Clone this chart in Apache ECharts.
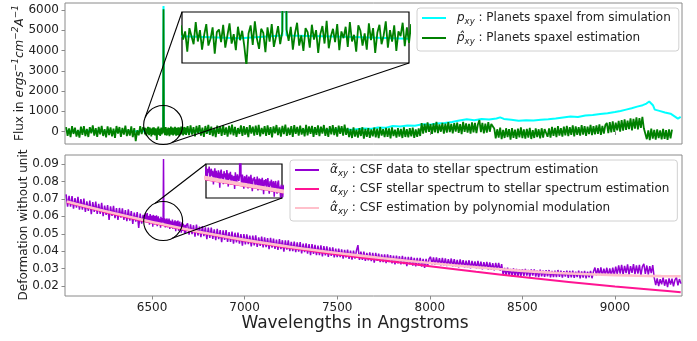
<!DOCTYPE html>
<html>
<head>
<meta charset="utf-8">
<script src="https://cdn.jsdelivr.net/npm/echarts@6/dist/echarts.min.js"></script>
<style>html,body{margin:0;padding:0;background:#fff}#c{width:697px;height:341px}</style>
</head>
<body>
<div id="c"></div>
<script>
// ---------------- DATA ----------------
const lambdaTicks = [6500, 7000, 7500, 8000, 8500, 9000];
const fluxTicks = [0, 1000, 2000, 3000, 4000, 5000, 6000];
const csfTicks = [0.02, 0.03, 0.04, 0.05, 0.06, 0.07, 0.08, 0.09];

// sampling of the noisy spectra (Angstrom)
const coarseLeftStart = 6036, fineStart = 6460, coarseRightStart = 6692;
const coarseStep = 8, fineStep = 2;

// p_hat_xy : estimated planet spaxel (flux)
const greenLeft = [220,-210,150,-280,260,-120,190,-250,80,-300,240,-160,270,-230,130,-270,210,-90,300,-200,
 160,-260,230,-140,280,-220,110,-290,250,-180,200,-240,140,-310,270,-100,220,-260,180,-150,
 290,-230,120,-200,250,-280,170,-480,60,-190,260,-130,210];
const greenFine = [60,-140,180,-30,90,-210,140,20,-100,230,
 -60,110,-180,40,200,-120,-20,150,-240,80,
 120,-70,190,-150,30,210,-90,50,-190,160,
 -40,100,-130,-420,60,180,-110,240,-20,-170,
 130,70,-220,150,-60,200,-140,10,170,-100,
 90,6035,120,-50,160,-180,60,220,-120,30,
 -200,140,80,-150,190,-30,110,-230,50,170,
 -90,250,-160,20,130,-70,200,-190,90,-10,
 160,-140,230,-60,40,-210,180,100,-120,60,
 -180,210,-40,140,-230,70,190,-100,30,240,
 -150,110,-60,180,-200,90,20,220,-130,150,
 -80,200,-170];
const greenRight = [
 260,-180,300,-150,220,-240,280,-90,310,-200,190,-260,270,-120,330,-170,240,-230,180,-280,
 290,-110,250,-210,320,-160,200,-250,280,-140,340,-190,230,-270,170,-120,300,-220,260,-150,
 210,-280,310,-100,240,-200,290,-170,330,-240,180,-130,270,-210,300,-160,220,-290,250,-90,
 320,-180,200,-250,280,-130,340,-220,190,-170,260,-270,310,-110,230,-200,290,-150,170,-240,
 330,-190,250,-120,280,-260,210,-160,300,-230,240,-100,320,-210,180,-270,270,-140,310,-180,
 220,-250,290,-120,260,-200,340,-160,
 180,-280,120,-320,200,-250,90,-300,160,-220,210,-350,130,-260,170,-310,100,-240,190,-290,
 140,-330,220,-200,110,-280,180,-260,150,-340,200,-230,90,-300,170,-250,130,-320,210,-270,
 120,-290,160,-240,190,-310,100,-260,150,-220,
 420,-100,380,-60,450,-20,360,-120,400,-40,470,-80,350,-10,430,-110,390,-50,460,-30,
 370,-90,410,0,440,-70,360,-130,480,-20,400,-60,380,-100,450,-40,420,-80,360,560,
 -30,430,-90,390,-50,460,-10,370,280,
 150,-340,110,-300,190,-380,80,-320,160,-280,120,-400,170,-310,90,-360,140,-290,200,-330,
 100,-350,130,-300,180,-370,70,-320,150,-280,110,-340,160,-300,120,
 200,-260,150,-300,230,-220,180,-280,260,-200,170,-250,240,-190,280,-230,210,-170,300,-240,
 250,-160,220,-200,310,-150,270,-210,240,-130,330,-180,260,-140,300,-120,350,-170,280,-100,320,
 420,-80,460,-40,500,-20,440,60,520,-10,560,40,600,80,540,120,650,60,620,140,
 700,100,660,180,720,160,
 120,-380,60,-420,140,-350,80,-400,100,-330,50,-390,130,-360,70,-410,110,-340,90];

// p_xy : planet spaxel from simulation [wavelength, flux]
const cyanPoints = [[6040,20],[6100,-30],[6160,40],[6220,10],[6280,-20],[6340,30],[6400,0],[6460,20],[6520,-10],[6560,30],[6562,6200],[6564,30],[6620,10],[6680,-20],[6740,30],[6800,0],[6860,40],[6920,10],[6980,30],[7040,50],[7100,20],[7160,60],[7220,40],[7280,70],[7340,50],[7400,90],[7460,70],[7520,110],[7580,90],[7640,150],[7680,130],[7720,200],[7760,180],[7800,270],[7840,250],[7880,300],[7920,280],[7960,360],[8000,340],[8040,390],[8080,420],[8120,470],[8160,540],[8200,600],[8240,560],[8280,620],[8320,590],[8360,640],[8380,700],[8400,620],[8440,580],[8480,530],[8520,560],[8560,540],[8600,580],[8640,600],[8680,640],[8720,690],[8760,740],[8800,720],[8840,790],[8880,820],[8920,860],[8960,900],[9000,960],[9030,1010],[9060,1080],[9090,1150],[9120,1230],[9150,1300],[9170,1380],[9185,1480],[9195,1400],[9205,1300],[9215,1080],[9240,1020],[9270,940],[9300,880],[9320,760],[9340,640],[9355,720]];

// alpha_tilde_xy : CSF data to stellar spectrum estimation
const purpleLeft = [.0726,.0656,.0717,.0655,.0716,.0644,.0704,.0650,.0712,.0638,.0699,.0638,.0702,.0626,.0686,.0632,.0690,.0612,.0682,.0626,.0684,.0614,.0672,.0614,.0678,.0601,.0662,.0608,.0665,.0580,.0658,.0602,.0660,.0590,.0648,.0580,.0648,.0592,.0646,.0580,.0636,.0572,.0640,.0576,.0630,.0556,.0622,.0570,.0624,.0533,.0616,.0558,.0608];
const purpleFine = [.0610,.0585,.0617,.0593,.0566,.0611,.0597,.0619,.0571,.0601,
 .0611,.0583,.0603,.0552,.0592,.0613,.0575,.0603,.0587,.0563,
 .0605,.0592,.0540,.0596,.0608,.0574,.0592,.0553,.0602,.0579,
 .0594,.0560,.0606,.0582,.0544,.0594,.0572,.0600,.0552,.0588,
 .0595,.0565,.0584,.0535,.0598,.0574,.0557,.0590,.0577,.0565,
 .0587,.0929,.0582,.0548,.0589,.0566,.0536,.0583,.0574,.0556,
 .0588,.0566,.0537,.0582,.0574,.0546,.0588,.0559,.0527,.0575,
 .0567,.0580,.0538,.0571,.0551,.0582,.0529,.0566,.0574,.0543,
 .0571,.0530,.0577,.0557,.0515,.0569,.0548,.0572,.0533,.0562,
 .0576,.0540,.0517,.0564,.0548,.0570,.0525,.0556,.0564,.0506,
 .0552,.0565,.0539,.0517,.0558,.0567,.0526,.0544,.0500,.0551,
 .0539,.0504,.0545];
const purpleRight = [
 .0560,.0495,.0554,.0498,.0549,.0483,.0552,.0490,.0541,.0481,.0544,.0486,.0537,.0469,.0535,.0476,.0536,.0471,.0525,.0464,
 .0528,.0469,.0521,.0452,.0520,.0465,.0521,.0453,.0510,.0454,.0513,.0443,.0506,.0450,.0507,.0443,.0498,.0432,.0498,
 .0439,.0496,.0441,.0489,.0428,.0490,.0434,.0491,.0425,.0480,.0431,.0484,.0422,.0479,.0424,.0475,.0412,.0476,.0421,.0472,
 .0413,.0466,.0408,.0469,.0412,.0463,.0398,.0462,.0409,.0462,.0401,.0454,.0400,.0455,.0394,.0451,.0397,.0452,.0387,.0444,
 .0395,.0445,.0386,.0441,.0378,.0441,.0385,.0436,.0377,.0432,.0378,.0433,.0370,.0429,.0376,.0428,.0367,.0422,.0373,.0422,
 .0364,.0415,
 .0366,.0415,.0366,.0411,.0358,.0407,.0364,.0409,.0356,.0404,.0351,.0404,.0357,.0404,.0435,.0350,.0397,.0350,.0397,.0344,
 .0391,.0348,.0393,.0343,.0390,.0335,.0390,.0345,.0386,.0337,.0382,.0337,.0382,.0331,.0382,.0337,.0378,.0330,.0375,.0324,
 .0375,.0330,.0371,.0324,.0373,.0326,.0367,.0314,.0367,.0324,.0367,.0317,.0362,.0313,.0362,.0317,.0362,.0311,.0356,.0305,
 .0356,.0311,.0356,
 .0368,.0325,.0365,.0322,.0365,.0324,.0360,.0319,.0362,.0319,.0359,.0314,.0355,.0318,.0358,.0313,.0354,.0313,.0350,.0308,
 .0353,.0312,.0349,.0307,.0346,.0307,.0348,.0302,.0345,.0306,.0341,.0301,.0344,.0301,.0340,.0296,.0337,.0300,.0339,.0295,
 .0336,.0295,.0332,.0290,.0333,.0294,.0333,.0288,.0326,.0265,.0304,.0261,.0305,.0264,.0299,.0256,.0302,.0259,.0298,.0255,
 .0295,.0258,
 .0297,.0259,.0298,.0260,.0293,.0255,.0295,.0260,.0296,.0255,.0289,.0251,.0294,.0256,.0289,.0253,.0291,.0256,.0292,.0250,
 .0287,.0251,.0288,.0252,.0292,.0253,.0289,.0248,.0286,.0254,.0289,.0247,.0287,.0250,.0288,.0247,.0283,.0251,.0288,.0244,
 .0284,.0249,.0287,.0244,.0282,.0250,.0287,.0245,.0283,.0306,.0262,.0303,.0263,.0307,.0258,.0300,.0264,.0305,.0259,.0301,
 .0260,.0306,.0262,
 .0312,.0268,.0318,.0272,.0322,.0266,.0316,.0274,.0324,.0264,.0314,.0276,.0326,.0268,.0318,.0272,.0322,.0262,.0312,.0328,
 .0270,.0318,.0266,.0314,.0274,.0320,
 .0248,.0206,.0244,.0200,.0240,.0210,.0250,.0202,.0238,.0194,.0244,.0208,.0242,.0198,.0236,.0250,.0204,.0240,.0214];

// smooth CSF curves
const curveLambda = [6040, 6250, 6500, 6750, 7000, 7250, 7500, 7750, 8000, 8250, 8500, 8750, 9000, 9250, 9355];
const alphaStar = [0.0680, 0.0624, 0.0563, 0.0508, 0.0460, 0.0418, 0.0381, 0.0347, 0.0314, 0.0282, 0.0252, 0.0224, 0.0198, 0.0175, 0.0165];
const alphaPoly = [0.0685, 0.0629, 0.0568, 0.0512, 0.0465, 0.0424, 0.0390, 0.0360, 0.0332, 0.0308, 0.0287, 0.0272, 0.0263, 0.0257, 0.0256];

// zoomed regions (H-alpha line)
const zoomLambda = [6465, 6680];
const zoomFlux = [-380, 380];
const zoomCsf = [0.0501, 0.0629];
const circleLambda = 6560, circleFlux = 320, circleCsf = 0.0573;

const legendTopNames = ['p_sim', 'p_est'];
const legendBottomNames = ['a_data', 'a_star', 'a_poly'];
const legendLabels = {
  p_sim: '{i|p}{s|xy}{t| : Planets spaxel from simulation}',
  p_est: '{i|p\u0302}{s|xy}{t| : Planets spaxel estimation}',
  a_data: '{i|\u03b1\u0303}{s|xy}{t| : CSF data to stellar spectrum estimation}',
  a_star: '{i|\u03b1}{s|xy}{t| : CSF stellar spectrum to stellar spectrum estimation}',
  a_poly: '{i|\u03b1\u0302}{s|xy}{t| : CSF estimation by polynomial modulation}'
};

// ---------------- BUILD ----------------
function pairs(start, step, vals) { return vals.map((v, i) => [start + i * step, v]); }
const greenData = pairs(coarseLeftStart, coarseStep, greenLeft)
  .concat(pairs(fineStart, fineStep, greenFine))
  .concat(pairs(coarseRightStart, coarseStep, greenRight));
const purpleData = pairs(coarseLeftStart, coarseStep, purpleLeft)
  .concat(pairs(fineStart, fineStep, purpleFine))
  .concat(pairs(coarseRightStart, coarseStep, purpleRight));
const starData = curveLambda.map((l, i) => [l, alphaStar[i]]);
const polyData = curveLambda.map((l, i) => [l, alphaPoly[i]]);

const FONT = 'DejaVu Sans';
const TXT = '#222';
const SPINE = '#8a8a8a';
const C_CYAN = '#00ffff', C_GREEN = '#008000', C_PURPLE = '#9400d3', C_DEEP = '#ff1493', C_PINK = '#ffc0cb';

const G_TOP = {left: 65, top: 3, width: 617, height: 141};
const G_BOT = {left: 65, top: 155, width: 617, height: 141};
const G_IN1 = {left: 182, top: 12, width: 227, height: 51};
const G_IN2 = {left: 206, top: 164, width: 76, height: 34};

function mainX(gi, showLabels) {
  return {
    gridIndex: gi, type: 'value', min: 6030, max: 9362,
    axisLine: {show: false}, splitLine: {show: false},
    axisTick: {show: true, length: 3.5, lineStyle: {color: SPINE}, customValues: lambdaTicks},
    axisLabel: {show: showLabels, customValues: lambdaTicks, fontFamily: FONT, fontSize: 12, color: TXT, margin: 6, formatter: v => String(v)}
  };
}
function hiddenAxis(gi, range) {
  return {gridIndex: gi, type: 'value', min: range[0], max: range[1], show: false, splitLine: {show: false}};
}

const richLegend = {
  i: {fontFamily: FONT, fontStyle: 'italic', fontSize: 12, color: TXT},
  s: {fontFamily: FONT, fontStyle: 'italic', fontSize: 8.5, color: TXT, padding: [7, 0, 0, 0]},
  t: {fontFamily: FONT, fontSize: 12, color: TXT}
};
function legend(names, left, top, gap) {
  return {
    data: names.map(n => ({name: n, icon: 'rect'})),
    orient: 'vertical', left: left, top: top,
    itemWidth: 24, itemHeight: 2, itemGap: gap,
    padding: [4, 8, 5, 5],
    backgroundColor: 'rgba(255,255,255,0.85)', borderColor: '#d0d0d0', borderWidth: 1, borderRadius: 3,
    formatter: n => legendLabels[n],
    textStyle: {fontFamily: FONT, fontSize: 12, color: TXT, padding: [0, 0, 0, 6], rich: richLegend},
    selectedMode: false
  };
}

const lineBase = {type: 'line', showSymbol: false, symbol: 'none', animation: false, silent: true};

const option = {
  animation: false,
  backgroundColor: '#fff',
  grid: [
    Object.assign({show: true, borderColor: SPINE, borderWidth: 1, backgroundColor: 'transparent'}, G_TOP),
    Object.assign({show: true, borderColor: SPINE, borderWidth: 1, backgroundColor: 'transparent'}, G_BOT),
    Object.assign({show: true, borderColor: '#000', borderWidth: 1.2, backgroundColor: '#fff'}, G_IN1),
    Object.assign({show: true, borderColor: '#000', borderWidth: 1.2, backgroundColor: '#fff'}, G_IN2)
  ],
  xAxis: [mainX(0, false), mainX(1, true), hiddenAxis(2, zoomLambda), hiddenAxis(3, zoomLambda)],
  yAxis: [
    {gridIndex: 0, type: 'value', min: -617, max: 6346, axisLine: {show: false}, splitLine: {show: false},
     axisTick: {show: true, length: 3.5, lineStyle: {color: SPINE}, customValues: fluxTicks},
     axisLabel: {customValues: fluxTicks, fontFamily: FONT, fontSize: 12, color: TXT, margin: 6, formatter: v => String(v)}},
    {gridIndex: 1, type: 'value', min: 0.0143, max: 0.0952, axisLine: {show: false}, splitLine: {show: false},
     axisTick: {show: true, length: 3.5, lineStyle: {color: SPINE}, customValues: csfTicks},
     axisLabel: {customValues: csfTicks, fontFamily: FONT, fontSize: 12, color: TXT, margin: 6, formatter: v => v.toFixed(2)}},
    hiddenAxis(2, zoomFlux), hiddenAxis(3, zoomCsf)
  ],
  legend: [legend(legendTopNames, 417, 8, 6), legend(legendBottomNames, 290, 160, 5)],
  series: [
    Object.assign({}, lineBase, {name: 'p_sim', xAxisIndex: 0, yAxisIndex: 0, data: cyanPoints, color: C_CYAN, lineStyle: {color: C_CYAN, width: 2}}),
    Object.assign({}, lineBase, {name: 'p_est', xAxisIndex: 0, yAxisIndex: 0, data: greenData, color: C_GREEN, lineStyle: {color: C_GREEN, width: 1.8}}),
    Object.assign({}, lineBase, {name: 'a_data', xAxisIndex: 1, yAxisIndex: 1, data: purpleData, color: C_PURPLE, lineStyle: {color: C_PURPLE, width: 1.5}}),
    Object.assign({}, lineBase, {name: 'a_star', xAxisIndex: 1, yAxisIndex: 1, data: starData, smooth: 0.4, color: C_DEEP, lineStyle: {color: C_DEEP, width: 2}}),
    Object.assign({}, lineBase, {name: 'a_poly', xAxisIndex: 1, yAxisIndex: 1, data: polyData, smooth: 0.4, color: C_PINK, lineStyle: {color: C_PINK, width: 2.6}}),
    // insets
    Object.assign({}, lineBase, {name: 'in_sim', xAxisIndex: 2, yAxisIndex: 2, data: cyanPoints, clip: true, lineStyle: {color: C_CYAN, width: 2}}),
    Object.assign({}, lineBase, {name: 'in_est', xAxisIndex: 2, yAxisIndex: 2, data: greenData, clip: true, lineStyle: {color: C_GREEN, width: 1.8}}),
    Object.assign({}, lineBase, {name: 'in_data', xAxisIndex: 3, yAxisIndex: 3, data: purpleData, clip: true, lineStyle: {color: C_PURPLE, width: 1.5}}),
    Object.assign({}, lineBase, {name: 'in_star', xAxisIndex: 3, yAxisIndex: 3, data: starData, smooth: 0.4, clip: true, lineStyle: {color: C_DEEP, width: 2}}),
    Object.assign({}, lineBase, {name: 'in_poly', xAxisIndex: 3, yAxisIndex: 3, data: polyData, smooth: 0.4, clip: true, lineStyle: {color: C_PINK, width: 4}})
  ]
};

const chart = echarts.init(document.getElementById('c'), null, {renderer: 'canvas', width: 697, height: 341});
chart.setOption(option);

// annotations: circles around H-alpha region and connectors to insets
const R = 19.5;
const cTop = chart.convertToPixel({gridIndex: 0}, [circleLambda, circleFlux]);
const cBot = chart.convertToPixel({gridIndex: 1}, [circleLambda, circleCsf]);
function onCircle(c, deg) { const a = deg * Math.PI / 180; return [c[0] + R * Math.cos(a), c[1] + R * Math.sin(a)]; }
function seg(p, q) {
  return {type: 'line', z: 50, silent: true, shape: {x1: p[0], y1: p[1], x2: q[0], y2: q[1]}, style: {stroke: '#000', lineWidth: 1.1}};
}
const sup = {fontFamily: FONT, fontStyle: 'italic', fontSize: 9, fill: TXT, padding: [0, 0, 9, 0]};
chart.setOption({
  graphic: [
    {type: 'circle', z: 50, silent: true, shape: {cx: cTop[0], cy: cTop[1], r: R}, style: {fill: 'none', stroke: '#000', lineWidth: 1.1}},
    {type: 'circle', z: 50, silent: true, shape: {cx: cBot[0], cy: cBot[1], r: R}, style: {fill: 'none', stroke: '#000', lineWidth: 1.1}},
    seg([G_IN1.left, G_IN1.top], onCircle(cTop, 203)),
    seg([G_IN1.left + G_IN1.width, G_IN1.top + G_IN1.height], onCircle(cTop, 63)),
    seg([G_IN2.left, G_IN2.top], onCircle(cBot, 246)),
    seg([G_IN2.left + G_IN2.width, G_IN2.top + G_IN2.height], onCircle(cBot, 62)),
    {type: 'text', z: 50, silent: true, x: 20, y: 73, rotation: Math.PI / 2,
     style: {text: 'Flux in {i|ergs}{s|\u22121}{i|cm}{s|\u22122}{i|A}{s|\u22121}', align: 'center', verticalAlign: 'middle',
       fontFamily: FONT, fontSize: 12, fill: TXT,
       rich: {i: {fontFamily: FONT, fontStyle: 'italic', fontSize: 12, fill: TXT}, s: sup}}},
    {type: 'text', z: 50, silent: true, x: 24, y: 225, rotation: Math.PI / 2,
     style: {text: 'Deformation without unit', align: 'center', verticalAlign: 'middle', fontFamily: FONT, fontSize: 12, fill: TXT}},
    {type: 'text', z: 50, silent: true, x: 355, y: 324,
     style: {text: 'Wavelengths in Angstroms', align: 'center', verticalAlign: 'middle', fontFamily: FONT, fontSize: 17, fill: TXT}}
  ]
});
</script>
</body>
</html>
